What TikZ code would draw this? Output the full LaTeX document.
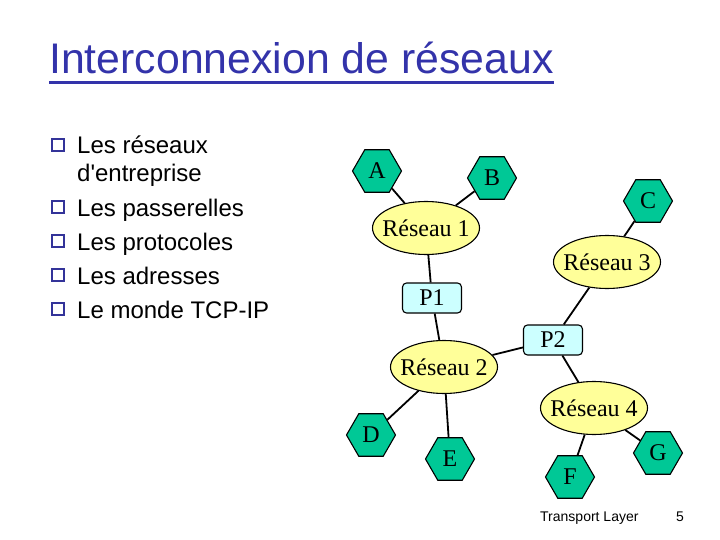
\documentclass[tikz,border=0pt]{standalone}
\usepackage{fontspec}
\setmainfont{Liberation Serif}
\setsansfont{Liberation Sans}
\usetikzlibrary{shapes.geometric}

\definecolor{titleblue}{RGB}{51,51,170}
\definecolor{bulletblue}{RGB}{51,51,153}
\definecolor{hostgreen}{RGB}{0,200,150}
\definecolor{netyellow}{RGB}{255,255,153}
\definecolor{gwcyan}{RGB}{204,255,255}

\begin{document}
\begin{tikzpicture}[x=1pt,y=-1pt,
    host/.style={regular polygon, regular polygon sides=6, minimum size=49pt,
        inner sep=0pt, draw, line width=1.1pt, fill=hostgreen,
        font=\fontsize{24}{24}\selectfont},
    net/.style={ellipse, draw, line width=1.1pt, fill=netyellow,
        minimum width=107pt, minimum height=53pt, inner xsep=-10pt, inner ysep=0pt,
        font=\fontsize{24}{24}\selectfont},
    gw/.style={rectangle, rounded corners=4pt, draw, line width=1.1pt, fill=gwcyan,
        minimum width=59pt, minimum height=30pt, inner sep=0pt,
        font=\fontsize{24}{24}\selectfont},
    link/.style={line width=1.8pt},
    bullet text/.style={anchor=base west, inner sep=0pt,
        font=\sffamily\fontsize{24}{24}\selectfont}]
\useasboundingbox (0,0) rectangle (720,540);

% title
\node (title) [anchor=base west, inner sep=0pt, text=titleblue,
    font=\sffamily\fontsize{42.8}{43}\selectfont] at (49,74) {Interconnexion de réseaux};
\draw[titleblue, line width=2.5pt] ([yshift=-8pt]title.south west) -- ([yshift=-8pt]title.south east);

% bullet list
\foreach \i/\y/\txt in {1/154/Les réseaux, 2/216/Les passerelles, 3/250/Les protocoles,
                        4/284/Les adresses, 5/318/Le monde TCP-IP}{
    \draw[bulletblue, line width=1.6pt] (52,\y-15) rectangle (64,\y-3);
    \node (item\i) [bullet text] at (77,\y) {\txt};
}
\node (item1b) [bullet text] at (77,182) {d\textquotesingle entreprise};

% networks and gateways
\node (R1) [net] at (426,228) {Réseau 1};
\node (R2) [net] at (444,367) {Réseau 2};
\node (R3) [net] at (607,262) {Réseau 3};
\node (R4) [net] at (594,408) {Réseau 4};
\node (P1) [gw] at (432,298) {P1};
\node (P2) [gw] at (553,340) {P2};

% hosts
\node (A) [host] at (377,171) {A};
\node (B) [host] at (492,178) {B};
\node (C) [host] at (648,201) {C};
\node (D) [host] at (371,435) {D};
\node (E) [host] at (450,459) {E};
\node (F) [host] at (570,477) {F};
\node (G) [host] at (658,453) {G};

\draw[link] (A) -- (R1);
\draw[link] (B) -- (R1);
\draw[link] (R1) -- (P1);
\draw[link] (P1) -- (R2);
\draw[link] (R2) -- (P2);
\draw[link] (P2) -- (R3);
\draw[link] (P2) -- (R4);
\draw[link] (C) -- (R3);
\draw[link] (R2) -- (D);
\draw[link] (R2) -- (E);
\draw[link] (R4) -- (F);
\draw[link] (R4) -- (G);

% footer
\node (footer) [anchor=base west, inner sep=0pt,
    font=\sffamily\fontsize{14}{14}\selectfont] at (540,521) {Transport Layer};
\node (pageno) [anchor=base west, inner sep=0pt,
    font=\sffamily\fontsize{14}{14}\selectfont] at (676,521) {5};
\end{tikzpicture}
\end{document}
